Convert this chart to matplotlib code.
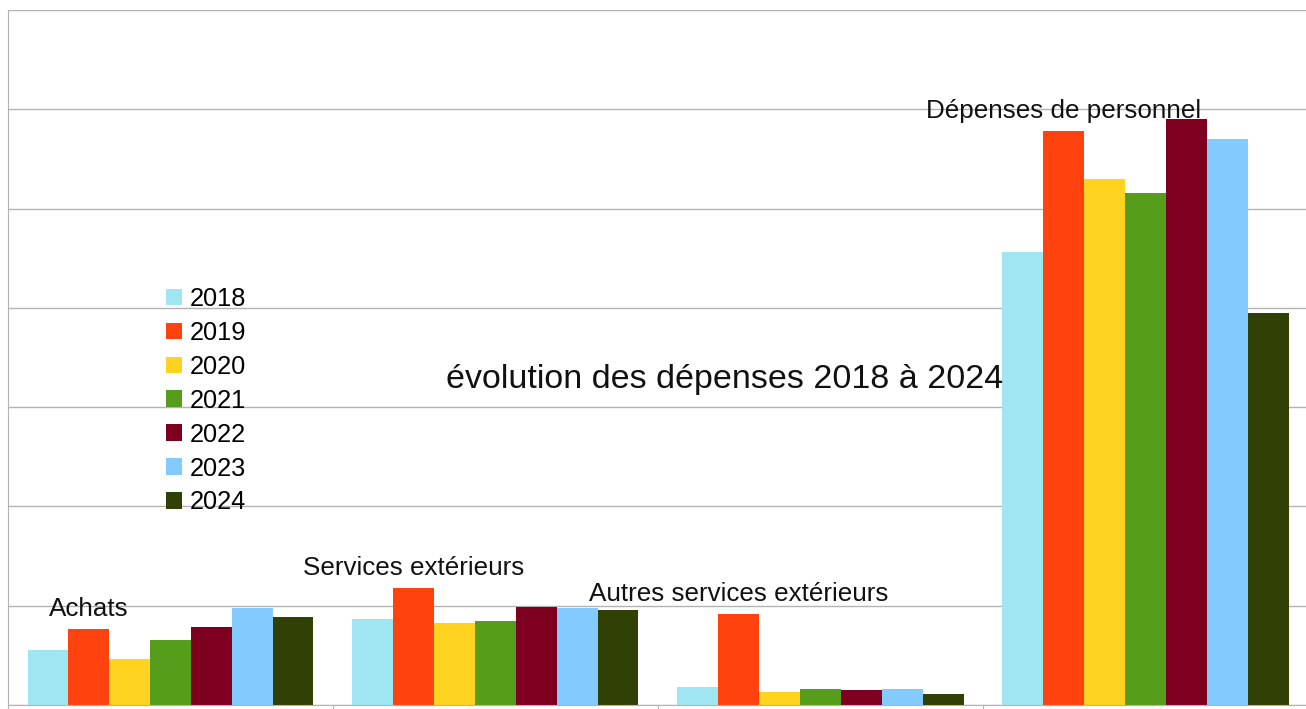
import matplotlib
matplotlib.use("Agg")
import matplotlib.pyplot as plt
import numpy as np
from matplotlib.patches import Patch

plt.rcParams['font.family'] = ['Liberation Sans', 'DejaVu Sans']

categories = ['Achats', 'Services extérieurs', 'Autres services extérieurs', 'Dépenses de personnel']
years = ['2018', '2019', '2020', '2021', '2022', '2023', '2024']
values = {
    '2018': [0.55, 0.87, 0.18, 4.56],
    '2019': [0.77, 1.18, 0.92, 5.78],
    '2020': [0.46, 0.83, 0.13, 5.30],
    '2021': [0.65, 0.85, 0.16, 5.16],
    '2022': [0.79, 0.99, 0.15, 5.90],
    '2023': [0.98, 0.98, 0.16, 5.70],
    '2024': [0.89, 0.96, 0.11, 3.95],
}
colors = ['#9fe5f2', '#ff420e', '#ffd320', '#579d1c', '#7e0021', '#83caff', '#314004']
title = 'évolution des dépenses 2018 à 2024'

W, H = 1306, 709
fig = plt.figure(figsize=(W / 100, H / 100), dpi=100)
ax = fig.add_axes([8 / W, 4 / H, 1300 / W, 695 / H])

x = np.arange(len(categories))
bw = 0.88 / len(years)
for i, y in enumerate(years):
    pos = x - 0.44 + bw * (i + 0.5)
    ax.bar(pos, values[y], width=bw, color=colors[i], zorder=2)
    if y == '2019':
        # category names shown as data labels on the 2019 series
        for p, v, c in zip(pos, values[y], categories):
            ax.annotate(c, (p, v), xytext=(0, 20), textcoords='offset pixels',
                        ha='center', va='center', fontsize=18.7, color='#111111', zorder=3)

ax.set_xlim(-0.5, len(categories) - 0.5)
ax.set_ylim(0, 7)
ax.set_yticks(range(0, 8))
ax.set_yticklabels([])
ax.tick_params(axis='y', length=0)
ax.set_xticks(np.arange(-0.5, len(categories), 1.0))
ax.set_xticklabels([])
ax.tick_params(axis='x', length=5, color='#b3b3b3', direction='out')
ax.grid(axis='y', color='#b3b3b3', linewidth=1, zorder=0)
for s in ['top', 'right']:
    ax.spines[s].set_visible(False)
for s in ['left', 'bottom']:
    ax.spines[s].set_color('#b3b3b3')

ax.text(0.551, 0.468, title, transform=ax.transAxes, ha='center', va='center',
        fontsize=24.5, color='#111111', zorder=3)

handles = [Patch(facecolor=c, edgecolor='none') for c in colors]
ax.legend(handles, years, loc='upper left', bbox_to_anchor=(158 / 1300, (705 - 287) / 695),
          bbox_transform=ax.transAxes, frameon=False, fontsize=18.3,
          handlelength=0.63, handleheight=0.63, handletextpad=0.31, labelspacing=0.39,
          borderpad=0, borderaxespad=0)

fig.savefig('out.png', dpi=100)
